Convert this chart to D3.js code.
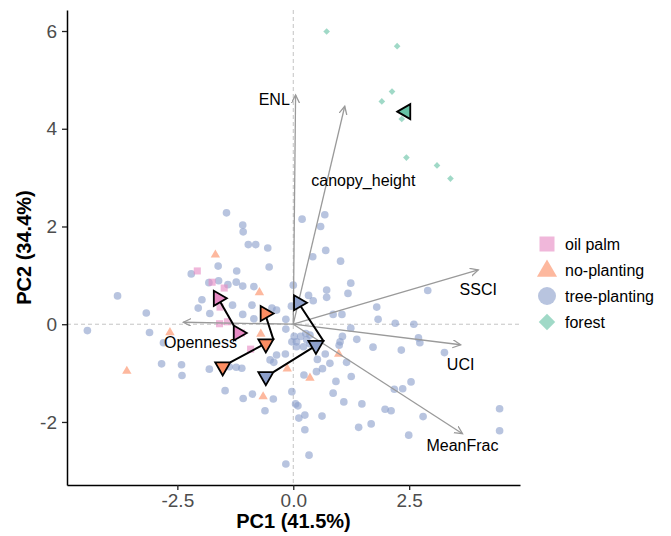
<!DOCTYPE html>
<html>
<head>
<meta charset="utf-8">
<script src="https://cdn.jsdelivr.net/npm/d3@7"></script>
<style>
    body { margin: 0; background: #fff; }
    text { font-family: "Liberation Sans", Arial, Helvetica, sans-serif; }
</style>
</head>
<body>
<script>
const width = 671;
const height = 536;

// sample scores (PC1, PC2) per land-use group
const oilPalm = [[-2.07, 1.09], [-1.75, 0.86], [-1.49, 0.74], [-1.58, 0.35], [-1.59, 0.01], [-1.42, 0.05], [-1.12, -0.18], [-0.92, -0.51]];

const noPlanting = [[-1.68, 1.42], [-2.66, -0.17], [-3.59, -0.96], [-0.73, 0.65], [-0.70, -0.20], [-0.13, -0.91], [0.36, -1.10], [-0.65, -1.48], [0.98, -0.61]];

const treePlanting = [
    [-3.79, 0.58], [-3.17, 0.23], [-4.44, -0.13], [-3.10, -0.17], [-2.80, -0.38], [-2.20, 1.03], [-1.62, 1.19], [-1.82, 0.85],
    [-1.61, 0.89], [-1.97, 0.50], [-2.05, 0.33], [-1.80, 0.22], [-2.84, -0.81], [-2.41, -0.83], [-2.40, -1.05], [-1.81, -0.92],
    [-1.44, 2.28], [-1.09, 2.03], [-1.08, 1.89], [-0.97, 1.63], [-0.81, 1.63], [-0.55, 1.56], [-0.52, 1.17], [-1.22, 1.09],
    [-1.41, 0.81], [-1.23, 0.86], [-1.09, 0.78], [-0.85, 0.77], [-0.89, 0.39], [-1.09, 0.20], [-0.85, 0.11], [-0.36, 0.29],
    [-0.16, 0.10], [-0.16, -0.10], [-1.31, 0.39], [-0.46, 0.33], [0.19, 2.15], [0.68, 2.24], [0.59, 2.00], [0.70, 1.51],
    [0.42, 1.38], [1.02, 1.29], [0.00, 0.80], [0.33, 0.59], [0.43, 0.48], [0.72, 0.70], [0.72, 0.55], [1.24, 0.84],
    [1.18, 0.63], [-0.04, 0.37], [0.86, 0.20], [1.05, 0.20], [1.24, -0.08], [1.06, -0.25], [1.01, -0.36], [0.99, -0.43],
    [0.16, -0.25], [0.07, -0.36], [0.29, -0.32], [0.02, -0.25], [0.27, -0.19], [0.22, -0.46], [0.36, -0.40], [0.07, -0.46],
    [-1.47, -1.36], [-1.08, -1.52], [-0.88, -1.43], [-0.43, -1.53], [-0.61, -1.77], [-1.38, -0.87], [-1.11, -0.90], [-1.23, -0.88],
    [-0.50, -0.73], [-0.42, -0.78], [-0.36, -0.63], [-0.17, -0.61], [-0.03, -1.38], [0.05, -1.63], [0.10, -1.67], [0.12, -1.92],
    [0.25, -1.86], [0.25, -2.16], [0.34, -2.68], [-0.16, -2.86], [0.62, -1.88], [-0.03, -0.36], [0.36, -0.22], [0.52, -0.72],
    [0.50, -0.97], [0.63, -0.91], [0.69, -0.61], [0.23, -1.04], [0.86, -1.41], [0.92, -1.17], [1.09, -1.59], [1.25, -1.07],
    [1.15, -0.78], [1.37, -0.31], [1.41, -2.11], [0.79, -0.80], [1.48, -1.63], [1.68, -2.04], [1.98, -1.74], [2.11, -1.77],
    [2.18, -1.33], [2.36, -1.32], [2.54, -1.18], [2.80, -1.89], [2.49, -2.27], [4.45, -1.73], [4.45, -2.18], [3.26, -0.58],
    [2.70, -0.28], [2.73, -0.38], [2.33, -0.53], [1.72, -0.47], [1.83, 0.10], [1.80, 0.35], [2.20, 0.02], [2.60, 0.00],
    [2.90, 0.69]
];

const forest = [[0.72, 5.99], [2.24, 5.69], [2.13, 4.76], [1.91, 4.56], [2.34, 4.20], [2.44, 3.41], [3.10, 3.25], [3.39, 2.98]];

// group trajectories (x, y, triangle direction)
const palmTrack = [[-1.62, 0.53, "right"], [-1.19, -0.18, "right"]];
const noPlantTrack = [[-1.36, -0.78, "down"], [-0.43, -0.31, "down"], [-0.61, 0.22, "right"]];
const treeTrack = [[-0.43, -0.98, "down"], [0.65, -0.34, "down"], [0.11, 0.44, "right"]];
const forestTrack = [[2.43, 4.35, "left"]];

// loadings: name, arrow tip, label position
const loadNames = ["ENL", "canopy_height", "SSCI", "UCI", "MeanFrac", "Openness"];
const loadTips = [[0.05, 4.69], [1.11, 4.46], [3.99, 1.11], [3.61, -0.42], [3.65, -2.24], [-2.37, 0.04]];
const loadLabels = [[-0.41, 4.59], [1.51, 2.95], [3.99, 0.72], [3.61, -0.83], [3.65, -2.49], [-2.0, -0.38]];

const xTicks = [-2.5, 0, 2.5];
const yTicks = [-2, 0, 2, 4, 6];
const groups = ["oil palm", "no-planting", "tree-planting", "forest"];
const colors = ["#E78AC3", "#FC8D62", "#8DA0CB", "#66C2A5"];

let svg = d3.select("body").append("svg")
    .attr("width", width)
    .attr("height", height)
    .style("background", "#fff");

let x = d3.scaleLinear().domain([-4.88, 4.89]).range([67, 520]);
let y = d3.scaleLinear().domain([-3.29, 6.43]).range([485, 10]);

// arrow head for loadings
svg.append("defs").append("marker")
    .attr("id", "head")
    .attr("markerUnits", "userSpaceOnUse")
    .attr("viewBox", "0 0 10 10")
    .attr("refX", 8).attr("refY", 4)
    .attr("markerWidth", 10).attr("markerHeight", 10)
    .attr("orient", "auto")
    .append("path")
    .attr("d", "M0,0 L8,4 L0,8")
    .attr("fill", "none")
    .attr("stroke", "#9a9a9a")
    .attr("stroke-width", 1.3);

// reference lines at 0
svg.append("line")
    .attr("x1", x(0)).attr("x2", x(0)).attr("y1", y.range()[1]).attr("y2", y.range()[0])
    .attr("stroke", "#c4c4c4").attr("stroke-dasharray", "4,3");
svg.append("line")
    .attr("x1", x.range()[0]).attr("x2", x.range()[1]).attr("y1", y(0)).attr("y2", y(0))
    .attr("stroke", "#c4c4c4").attr("stroke-dasharray", "4,3");

// small points
function drawPoints(data, type, size, color, rotate) {
    svg.append("g").selectAll("path")
        .data(data)
        .enter()
        .append("path")
        .attr("d", d3.symbol().type(type).size(size))
        .attr("transform", d => "translate(" + x(d[0]) + "," + y(d[1]) + ")" + (rotate ? " rotate(45)" : ""))
        .attr("fill", color)
        .attr("fill-opacity", 0.62);
}
drawPoints(treePlanting, d3.symbolCircle, 46, colors[2]);
drawPoints(oilPalm, d3.symbolSquare, 50, colors[0]);
drawPoints(noPlanting, d3.symbolTriangle, 38, colors[1]);
drawPoints(forest, d3.symbolSquare, 22, colors[3], true);

// loading arrows
svg.append("g").selectAll("line")
    .data(loadTips)
    .enter()
    .append("line")
    .attr("x1", x(0)).attr("y1", y(0))
    .attr("x2", d => x(d[0])).attr("y2", d => y(d[1]))
    .attr("stroke", "#9a9a9a")
    .attr("stroke-width", 1.3)
    .attr("marker-end", "url(#head)");

svg.append("g").selectAll("text")
    .data(loadLabels)
    .enter()
    .append("text")
    .attr("x", d => x(d[0])).attr("y", d => y(d[1]))
    .attr("text-anchor", "middle")
    .attr("dominant-baseline", "central")
    .attr("font-size", 16)
    .attr("fill", "#000")
    .text((d, i) => loadNames[i]);

// trajectories
function triangle(cx, cy, dir) {
    const s = 7.5, h = 4.33, t = 8.66;
    let pts;
    if (dir === "down") pts = [[cx - s, cy - h], [cx + s, cy - h], [cx, cy + t]];
    else if (dir === "right") pts = [[cx + t, cy], [cx - h, cy - s], [cx - h, cy + s]];
    else pts = [[cx - t, cy], [cx + h, cy - s], [cx + h, cy + s]];
    return "M" + pts.map(p => p.join(",")).join("L") + "Z";
}
// data point sits on the top-right corner of the down triangles
const offsets = {down: [-7.5, 4.33], right: [0, 0], left: [0, 0]};

let line = d3.line().x(d => x(d[0])).y(d => y(d[1]));
let tracks = [palmTrack, noPlantTrack, treeTrack, forestTrack];
tracks.forEach(function (track, i) {
    if (track.length > 1) {
        svg.append("path")
            .attr("d", line(track))
            .attr("fill", "none")
            .attr("stroke", "#000")
            .attr("stroke-width", 2);
    }
    svg.append("g").selectAll("path")
        .data(track)
        .enter()
        .append("path")
        .attr("d", d => triangle(x(d[0]) + offsets[d[2]][0], y(d[1]) + offsets[d[2]][1], d[2]))
        .attr("fill", colors[i])
        .attr("stroke", "#000")
        .attr("stroke-width", 1.8)
        .attr("stroke-linejoin", "miter");
});

// axes
let xAxis = svg.append("g")
    .attr("transform", "translate(0," + y.range()[0] + ")")
    .call(d3.axisBottom(x).tickValues(xTicks).tickSize(5).tickSizeOuter(0).tickPadding(4)
        .tickFormat(d => d.toFixed(1)));
let yAxis = svg.append("g")
    .attr("transform", "translate(" + x.range()[0] + ",0)")
    .call(d3.axisLeft(y).tickValues(yTicks).tickSize(5).tickSizeOuter(0).tickPadding(5)
        .tickFormat(d => String(d)));

[xAxis, yAxis].forEach(function (g) {
    g.select(".domain").attr("stroke", "#000").attr("stroke-width", 1.5);
    g.selectAll(".tick line").attr("stroke", "#222").attr("stroke-width", 1.3);
    g.selectAll(".tick text")
        .attr("fill", "#4d4d4d")
        .attr("font-size", 19)
        .style("font-family", "'Liberation Sans', Arial, sans-serif");
});

svg.append("text")
    .attr("x", (x.range()[0] + x.range()[1]) / 2)
    .attr("y", 528)
    .attr("text-anchor", "middle")
    .attr("font-size", 20)
    .attr("font-weight", "bold")
    .text("PC1 (41.5%)");

svg.append("text")
    .attr("transform", "translate(31," + (y.range()[0] + y.range()[1]) / 2 + ") rotate(-90)")
    .attr("text-anchor", "middle")
    .attr("font-size", 20)
    .attr("font-weight", "bold")
    .text("PC2 (34.4%)");

// legend
const legendTypes = [d3.symbolSquare, d3.symbolTriangle, d3.symbolCircle, d3.symbolSquare];
const legendSizes = [225, 175, 254, 135];
let legend = svg.append("g").selectAll("g")
    .data(groups)
    .enter()
    .append("g")
    .attr("transform", (d, i) => "translate(547," + (244 + i * 26) + ")");

legend.append("path")
    .attr("d", (d, i) => d3.symbol().type(legendTypes[i]).size(legendSizes[i])())
    .attr("transform", (d, i) => i === 3 ? "rotate(45)" : (i === 1 ? "translate(0,1)" : ""))
    .attr("fill", (d, i) => colors[i])
    .attr("fill-opacity", 0.62);

legend.append("text")
    .attr("x", 18)
    .attr("dominant-baseline", "central")
    .attr("font-size", 16)
    .text(d => d);
</script>
</body>
</html>
